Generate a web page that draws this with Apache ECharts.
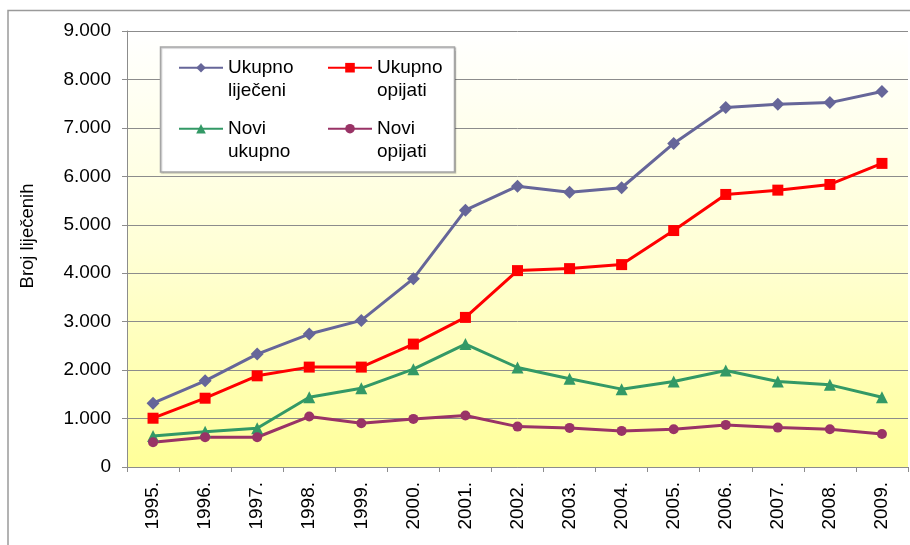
<!DOCTYPE html>
<html>
<head>
<meta charset="utf-8">
<script src="https://cdn.jsdelivr.net/npm/echarts@6/dist/echarts.min.js"></script>
<style>html,body{margin:0;padding:0;background:#fff;}#c{width:910px;height:545px;}</style>
</head>
<body>
<div id="c"></div>
<script>
var years = ['1995.','1996.','1997.','1998.','1999.','2000.','2001.','2002.','2003.','2004.','2005.','2006.','2007.','2008.','2009.'];
var ukupnoLijeceni = [1317, 1779, 2330, 2744, 3026, 3888, 5301, 5797, 5673, 5764, 6680, 7419, 7487, 7522, 7750];
var ukupnoOpijati  = [1007, 1420, 1882, 2062, 2062, 2537, 3088, 4054, 4095, 4178, 4881, 5626, 5715, 5832, 6267];
var noviUkupno     = [641, 730, 800, 1441, 1627, 2020, 2537, 2054, 1820, 1607, 1764, 1992, 1764, 1696, 1441];
var noviOpijati    = [510, 614, 614, 1041, 903, 993, 1062, 834, 807, 745, 779, 869, 813, 779, 683];
var yTicks = { min: 0, max: 9000, interval: 1000 };
var seriesNames = ['Ukupno\nliječeni', 'Ukupno\nopijati', 'Novi\nukupno', 'Novi\nopijati'];

var FONT = "'Liberation Sans', Arial, sans-serif";
var chart = echarts.init(document.getElementById('c'));

function fmt(v) {
  if (v === 0) return '0';
  var s = String(v);
  return s.replace(/\B(?=(\d{3})+(?!\d))/g, '.');
}

function mk(name, data, color, symbol, size) {
  return {
    name: name, type: 'line', data: data,
    symbol: symbol, symbolSize: size,
    lineStyle: { color: color, width: 3 },
    itemStyle: { color: color },
    animation: false
  };
}

chart.setOption({
  animation: false,
  textStyle: { fontFamily: FONT },
  graphic: [
    { type: 'rect', z: -10, silent: true,
      shape: { x: 8, y: 10.5, width: 1200, height: 1200 },
      style: { fill: 'none', stroke: '#9a9a9a', lineWidth: 1.5 } },
    { type: 'rect', z: 50, silent: true,
      shape: { x: 160.5, y: 47, width: 294, height: 125 },
      style: { fill: '#ffffff', stroke: '#a6a6a6', lineWidth: 1.5,
               shadowColor: 'rgba(0,0,0,0.2)', shadowOffsetX: 1, shadowOffsetY: 1, shadowBlur: 1 } }
  ],
  grid: {
    left: 127, right: 2, top: 31, bottom: 78,
    show: true, borderWidth: 0,
    backgroundColor: new echarts.graphic.LinearGradient(0, 0, 0, 1, [
      { offset: 0, color: '#ffffff' },
      { offset: 0.5, color: '#ffffd6' },
      { offset: 1, color: '#ffff99' }
    ])
  },
  legend: {
    z: 60,
    left: 178, top: 33.2, width: 310, padding: 0,
    orient: 'horizontal',
    itemWidth: 44, itemHeight: 12, itemGap: -8,
    selectedMode: false,
    data: seriesNames,
    formatter: function (n) { return '\n' + n; },
    textStyle: { fontFamily: FONT, fontSize: 19, color: '#000', lineHeight: 23, width: 107 }
  },
  xAxis: {
    type: 'category', data: years, boundaryGap: true,
    axisLine: { lineStyle: { color: '#8c8c8c', width: 1 } },
    axisTick: { show: true, length: 5, lineStyle: { color: '#8c8c8c' } },
    axisLabel: { rotate: 90, margin: 15, fontSize: 19, color: '#000', fontFamily: FONT, interval: 0 },
    splitLine: { show: false }
  },
  yAxis: {
    type: 'value', min: yTicks.min, max: yTicks.max, interval: yTicks.interval,
    name: 'Broj liječenih', nameLocation: 'middle', nameGap: 90,
    nameTextStyle: { fontSize: 18.5, color: '#000', fontFamily: FONT, padding: [0, 0, 0, 26] },
    axisLine: { show: true, lineStyle: { color: '#8c8c8c', width: 1 } },
    axisTick: { show: true, length: 5, lineStyle: { color: '#8c8c8c' } },
    axisLabel: { margin: 16, fontSize: 19, color: '#000', fontFamily: FONT, formatter: fmt },
    splitLine: { show: true, lineStyle: { color: '#8c8c8c', width: 1 } }
  },
  series: [
    mk(seriesNames[0], ukupnoLijeceni, '#666699', 'diamond', 13),
    mk(seriesNames[1], ukupnoOpijati, '#ff0000', 'rect', 11),
    mk(seriesNames[2], noviUkupno, '#339966', 'triangle', 12),
    mk(seriesNames[3], noviOpijati, '#993366', 'circle', 10)
  ]
});
</script>
</body>
</html>
